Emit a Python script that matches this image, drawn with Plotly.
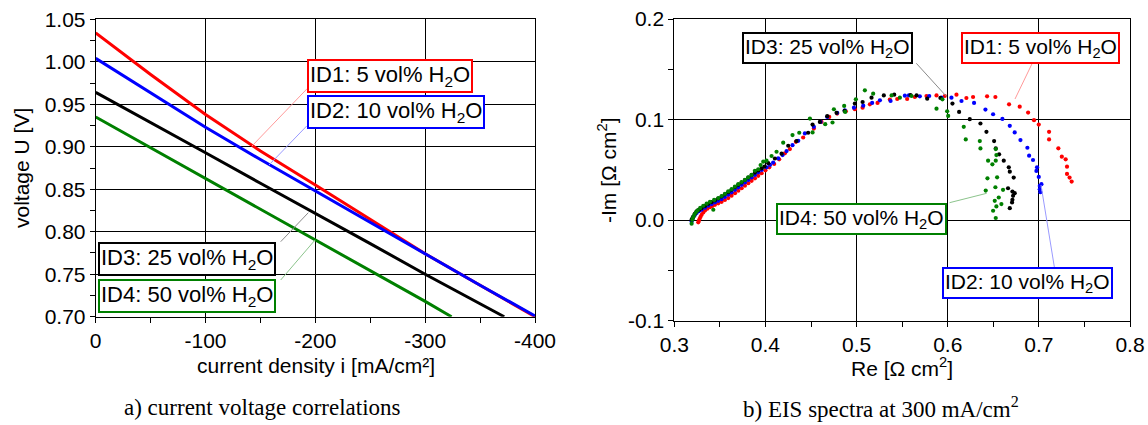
import plotly.graph_objects as go

W, H = 1148, 425

# ---------------- left panel: current voltage correlations ----------------
id1_i = [0, -50, -100, -150, -200, -250, -300, -350, -400]
id1_u = [1.034, 0.985, 0.938, 0.895, 0.855, 0.814, 0.774, 0.737, 0.700]
id2_i = [0, -50, -100, -150, -200, -250, -300, -350, -400]
id2_u = [1.004, 0.963, 0.923, 0.885, 0.848, 0.811, 0.773, 0.737, 0.701]
id3_i = [0, -50, -100, -150, -200, -250, -300, -350, -372]
id3_u = [0.964, 0.928, 0.893, 0.857, 0.822, 0.786, 0.750, 0.715, 0.700]
id4_i = [0, -50, -100, -150, -200, -250, -300, -324]
id4_u = [0.935, 0.899, 0.863, 0.827, 0.790, 0.754, 0.718, 0.700]

iv_xticks = [0, -100, -200, -300, -400]
iv_xlabels = ["0", "-100", "-200", "-300", "-400"]

# ---------------- right panel: EIS spectra ----------------
eis1_re = [0.3263, 0.3270, 0.3278, 0.3288, 0.3300, 0.3318, 0.3337, 0.3362, 0.3391, 0.3418,
           0.3446, 0.3482, 0.3519, 0.3555, 0.3592, 0.3628, 0.3666, 0.3702, 0.3739, 0.3775,
           0.3812, 0.3848, 0.3885, 0.3921, 0.3958, 0.4000, 0.4042, 0.4096, 0.4151, 0.4213,
           0.4268, 0.4334, 0.4414, 0.4531, 0.4615, 0.4700, 0.4787, 0.4882, 0.4981, 0.5066,
           0.5146, 0.5230, 0.5365, 0.5446, 0.5555, 0.5639, 0.5767, 0.5877, 0.5968, 0.6096,
           0.6205, 0.6278, 0.6432, 0.6523, 0.6673, 0.6790, 0.6882, 0.6947, 0.6999, 0.7112,
           0.7112, 0.7214, 0.7252, 0.7294, 0.7309, 0.7309, 0.7337, 0.7360]
eis1_im = [-0.0023, -0.0005, 0.0012, 0.0032, 0.0052, 0.0075, 0.0095, 0.0112, 0.0128, 0.0140,
           0.0151, 0.0166, 0.0181, 0.0199, 0.0218, 0.0242, 0.0267, 0.0291, 0.0316, 0.0341,
           0.0366, 0.0390, 0.0415, 0.0440, 0.0465, 0.0494, 0.0524, 0.0557, 0.0604, 0.0663,
           0.0706, 0.0778, 0.0821, 0.0910, 0.0976, 0.1026, 0.1059, 0.1082, 0.1102, 0.1118,
           0.1151, 0.1165, 0.1198, 0.1204, 0.1204, 0.1224, 0.1234, 0.1240, 0.1234, 0.1247,
           0.1214, 0.1224, 0.1231, 0.1224, 0.1151, 0.1128, 0.1069, 0.0993, 0.0950, 0.0877,
           0.0802, 0.0713, 0.0630, 0.0604, 0.0531, 0.0458, 0.0422, 0.0382]

eis2_re = [0.3190, 0.3198, 0.3209, 0.3225, 0.3245, 0.3270, 0.3300, 0.3337, 0.3373, 0.3410,
           0.3446, 0.3482, 0.3519, 0.3555, 0.3592, 0.3628, 0.3666, 0.3702, 0.3739, 0.3775,
           0.3812, 0.3848, 0.3885, 0.3921, 0.3958, 0.4012, 0.4050, 0.4085, 0.4140, 0.4188,
           0.4232, 0.4297, 0.4360, 0.4433, 0.4531, 0.4605, 0.4678, 0.4787, 0.4871, 0.4971,
           0.5073, 0.5171, 0.5256, 0.5373, 0.5530, 0.5574, 0.5694, 0.5797, 0.5932, 0.6041,
           0.6151, 0.6289, 0.6414, 0.6498, 0.6600, 0.6681, 0.6735, 0.6798, 0.6874, 0.6893,
           0.6936, 0.6980, 0.6973, 0.6999, 0.7010, 0.7028, 0.7010, 0.7017]
eis2_im = [-0.0014, 0.0008, 0.0029, 0.0050, 0.0069, 0.0087, 0.0102, 0.0122, 0.0142, 0.0158,
           0.0175, 0.0191, 0.0208, 0.0229, 0.0251, 0.0275, 0.0300, 0.0325, 0.0350, 0.0374,
           0.0399, 0.0424, 0.0449, 0.0474, 0.0498, 0.0524, 0.0548, 0.0571, 0.0613, 0.0646,
           0.0686, 0.0745, 0.0788, 0.0861, 0.0927, 0.0976, 0.1026, 0.1066, 0.1092, 0.1118,
           0.1138, 0.1165, 0.1191, 0.1184, 0.1237, 0.1240, 0.1231, 0.1234, 0.1217, 0.1217,
           0.1184, 0.1165, 0.1099, 0.1052, 0.1006, 0.0937, 0.0871, 0.0795, 0.0719, 0.0640,
           0.0597, 0.0524, 0.0488, 0.0429, 0.0339, 0.0356, 0.0306, 0.0277]

eis3_re = [0.3190, 0.3200, 0.3209, 0.3225, 0.3245, 0.3272, 0.3300, 0.3337, 0.3373, 0.3410,
           0.3446, 0.3482, 0.3519, 0.3555, 0.3592, 0.3628, 0.3666, 0.3702, 0.3739, 0.3775,
           0.3812, 0.3848, 0.3885, 0.3921, 0.3958, 0.3990, 0.4031, 0.4104, 0.4177, 0.4250,
           0.4340, 0.4469, 0.4517, 0.4597, 0.4678, 0.4780, 0.4868, 0.4981, 0.5066, 0.5164,
           0.5299, 0.5413, 0.5592, 0.5658, 0.5775, 0.5920, 0.6052, 0.6125, 0.6242, 0.6359,
           0.6425, 0.6509, 0.6527, 0.6564, 0.6615, 0.6670, 0.6681, 0.6724, 0.6662, 0.6710,
           0.6735, 0.6717, 0.6710, 0.6706, 0.6681]
eis3_im = [0.0003, 0.0018, 0.0035, 0.0062, 0.0085, 0.0103, 0.0119, 0.0140, 0.0161, 0.0178,
           0.0195, 0.0214, 0.0234, 0.0255, 0.0277, 0.0301, 0.0326, 0.0350, 0.0373, 0.0398,
           0.0422, 0.0447, 0.0472, 0.0493, 0.0514, 0.0532, 0.0565, 0.0612, 0.0660, 0.0739,
           0.0785, 0.0868, 0.0950, 0.0976, 0.1033, 0.1066, 0.1085, 0.1158, 0.1174, 0.1217,
           0.1240, 0.1247, 0.1244, 0.1240, 0.1207, 0.1215, 0.1158, 0.1075, 0.1003, 0.0960,
           0.0877, 0.0785, 0.0712, 0.0653, 0.0590, 0.0524, 0.0481, 0.0422, 0.0316, 0.0283,
           0.0267, 0.0241, 0.0201, 0.0175, 0.0118]

eis4_re = [0.3190, 0.3198, 0.3208, 0.3220, 0.3236, 0.3256, 0.3285, 0.3318, 0.3355, 0.3391,
           0.3428, 0.3437, 0.3483, 0.3520, 0.3556, 0.3592, 0.3629, 0.3665, 0.3702, 0.3738,
           0.3775, 0.3811, 0.3848, 0.3884, 0.3921, 0.3947, 0.3976, 0.4012, 0.4067, 0.4122,
           0.4195, 0.4297, 0.4371, 0.4488, 0.4517, 0.4656, 0.4736, 0.4751, 0.4864, 0.4875,
           0.4992, 0.5091, 0.5182, 0.5384, 0.5475, 0.5603, 0.5877, 0.5942, 0.5994, 0.6005,
           0.6176, 0.6198, 0.6352, 0.6359, 0.6527, 0.6534, 0.6527, 0.6443, 0.6490, 0.6436,
           0.6542, 0.6417, 0.6523, 0.6607, 0.6560, 0.6516, 0.6589, 0.6534, 0.6498, 0.6527]
eis4_im = [-0.0037, 0.0003, 0.0028, 0.0052, 0.0075, 0.0095, 0.0120, 0.0142, 0.0162, 0.0181,
           0.0102, 0.0200, 0.0218, 0.0239, 0.0260, 0.0284, 0.0307, 0.0332, 0.0356, 0.0378,
           0.0399, 0.0424, 0.0449, 0.0490, 0.0505, 0.0547, 0.0580, 0.0590, 0.0637, 0.0679,
           0.0769, 0.0845, 0.0868, 0.1009, 0.0871, 0.0953, 0.0970, 0.1102, 0.1135, 0.1075,
           0.1201, 0.1290, 0.1257, 0.1240, 0.1217, 0.1234, 0.1108, 0.1201, 0.1082, 0.1036,
           0.0927, 0.0802, 0.0785, 0.0712, 0.0706, 0.0646, 0.0590, 0.0590, 0.0554, 0.0415,
           0.0425, 0.0293, 0.0326, 0.0300, 0.0224, 0.0191, 0.0158, 0.0135, 0.0092, 0.0020]

eis_yticks = [-0.1, 0.0, 0.1, 0.2]
eis_ylabels = ["-0.1", "0.0", "0.1", "0.2"]

labels = ["ID1: 5 vol% H<sub>2</sub>O", "ID2: 10 vol% H<sub>2</sub>O",
          "ID3: 25 vol% H<sub>2</sub>O", "ID4: 50 vol% H<sub>2</sub>O"]
colors = ["#ff0000", "#0000ff", "#000000", "#008000"]
leader_colors = ["#ff9a9a", "#9a9aff", "#8a8a8a", "#8cc48c"]

SANS = "Liberation Sans, Arial, sans-serif"
SERIF = "Liberation Serif, Times New Roman, serif"


def fx(p):
    return p / W


def fy(p):
    return 1 - p / H


fig = go.Figure()

for xs, ys, c in zip([id1_i, id2_i, id3_i, id4_i], [id1_u, id2_u, id3_u, id4_u], colors):
    fig.add_trace(go.Scatter(x=xs, y=ys, mode="lines", line=dict(color=c, width=3),
                             xaxis="x", yaxis="y", showlegend=False))

for xs, ys, c in zip([eis1_re, eis2_re, eis3_re, eis4_re], [eis1_im, eis2_im, eis3_im, eis4_im], colors):
    fig.add_trace(go.Scatter(x=xs, y=ys, mode="markers", marker=dict(color=c, size=4.2, line=dict(width=0)),
                             xaxis="x2", yaxis="y2", showlegend=False))

axis_common = dict(showline=True, linecolor="black", linewidth=1, mirror=True, automargin=False,
                   showgrid=True, gridcolor="black", gridwidth=1, zeroline=False,
                   ticks="outside", ticklen=5, tickcolor="black", tickwidth=1,
                   tickfont=dict(family=SANS, size=21, color="black"))

fig.update_layout(
    width=W, height=H, margin=dict(l=0, r=0, t=0, b=0, autoexpand=False),
    paper_bgcolor="white", plot_bgcolor="white",
    xaxis=dict(domain=[fx(95.7), fx(535)], range=[0, -400], tickvals=iv_xticks, ticktext=iv_xlabels,
               minor=dict(dtick=50, ticks="outside", ticklen=5, tickcolor="black", showgrid=False),
               anchor="y", **axis_common),
    yaxis=dict(domain=[fy(316.7), fy(19.3)], range=[0.70, 1.05], dtick=0.05, tickformat=".2f",
               minor=dict(dtick=0.025, ticks="outside", ticklen=5, tickcolor="black", showgrid=False),
               anchor="x", **axis_common),
    xaxis2=dict(domain=[fx(674.3), fx(1130)], range=[0.3, 0.8], dtick=0.1, tickformat=".1f",
                minor=dict(dtick=0.05, ticks="outside", ticklen=5, tickcolor="black", showgrid=False),
                anchor="y2", **axis_common),
    yaxis2=dict(domain=[fy(320.5), fy(19)], range=[-0.1, 0.2], tickvals=eis_yticks, ticktext=eis_ylabels,
                minor=dict(dtick=0.05, ticks="outside", ticklen=5, tickcolor="black", showgrid=False),
                anchor="x2", **axis_common),
)

# axis titles and captions
texts = [
    ("voltage U [V]", 21, 168, -90, SANS, 21),
    ("current density i [mA/cm²]", 316, 365, 0, SANS, 21),
    ("-Im [Ω cm<sup>2</sup>]", 607, 170, -90, SANS, 21),
    ("Re [Ω cm<sup>2</sup>]", 902, 367, 0, SANS, 21),
    ("a) current voltage correlations", 262, 407, 0, SERIF, 23),
    ("b) EIS spectra at 300 mA/cm<sup>2</sup>", 881, 407, 0, SERIF, 23),
]
for t, x, y, ang, fam, sz in texts:
    fig.add_annotation(text=t, x=fx(x), y=fy(y), xref="paper", yref="paper", showarrow=False,
                       xanchor="center", yanchor="middle", textangle=ang,
                       font=dict(family=fam, size=sz, color="black"))

# legend boxes: (label index, left px, top px, font size)
boxes = [
    (0, 307.3, 59.3, 22), (1, 306.7, 95, 22), (2, 98.3, 241.7, 22), (3, 98.3, 279.3, 22),
    (2, 741.6, 32.3, 21), (0, 961, 31.7, 21), (3, 775.5, 202.7, 21), (1, 941.5, 267.3, 21),
]
for k, lx, ty, sz in boxes:
    fig.add_annotation(text=labels[k], x=fx(lx), y=fy(ty), xref="paper", yref="paper",
                       showarrow=False, xanchor="left", yanchor="top",
                       bordercolor=colors[k], borderwidth=2, borderpad=1, bgcolor="white",
                       font=dict(family=SANS, size=sz, color="black"))

# leader lines (px coordinates)
leaders = [
    (0, 307.3, 88.5, 252, 146), (1, 306.7, 126, 269, 165),
    (2, 280.7, 241.7, 308.3, 212.7), (3, 280.7, 280, 315, 240),
    (2, 916.3, 63.3, 946.7, 96.7), (0, 1033, 61.7, 1015, 99),
    (3, 949.5, 202.7, 986.7, 193.3), (1, 1054.4, 267.3, 1041, 185),
]
for k, x0, y0, x1, y1 in leaders:
    fig.add_shape(type="line", xref="paper", yref="paper", x0=fx(x0), y0=fy(y0), x1=fx(x1), y1=fy(y1),
                  line=dict(color=leader_colors[k], width=1))

fig.write_html("out.html", config={"displayModeBar": False},
               post_script="document.body.style.margin='0px';document.body.style.overflow='hidden';")
